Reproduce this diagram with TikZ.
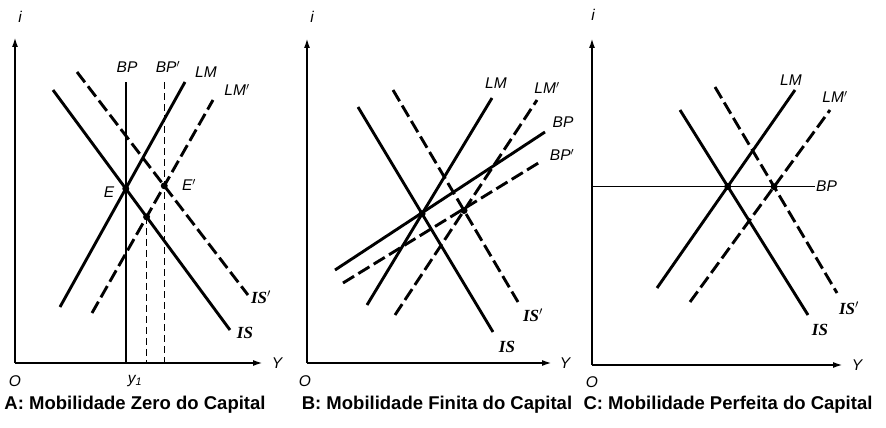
\documentclass[tikz,border=0pt]{standalone}
\usepackage{fontspec}
\setmainfont{Liberation Sans}
\newfontfamily\isfont{Liberation Serif}
\usetikzlibrary{arrows.meta}

\begin{document}
\begin{tikzpicture}[
  x=1pt, y=-1pt,
  axis/.style={line width=1.9pt, -{Latex[length=10pt,width=6pt]}},
  curve/.style={line width=2.9pt},
  shifted/.style={curve, dash pattern=on 13pt off 5pt},
  guide/.style={line width=1.5pt},
  guidedash/.style={guide, dash pattern=on 7pt off 4pt},
  lbl/.style={font=\fontsize{15.5}{15.5}\selectfont\itshape, inner sep=0pt},
  islbl/.style={font=\fontsize{17}{17}\selectfont\isfont\bfseries\itshape, inner sep=0pt},
  caption/.style={font=\fontsize{18.5}{18.5}\selectfont\bfseries, inner sep=0pt, anchor=base},
  eq/.style={circle, fill, inner sep=0pt, minimum size=7pt}
]
  \useasboundingbox (0,0) rectangle (886,428);

  % A: Mobilidade Zero
  \coordinate (oA) at (15,363);
  \coordinate (topA) at (0,82);
  \draw[axis] (oA) -- (15,37);
  \draw[axis] (oA) -- (263,363);
  \coordinate (lmA1) at (60,307);  \coordinate (lmA2) at (185,82);
  \coordinate (lmpA1) at (92,313); \coordinate (lmpA2) at (213,100);
  \coordinate (isA1) at (53,90);   \coordinate (isA2) at (230,330);
  \coordinate (ispA1) at (77,72);  \coordinate (ispA2) at (248,295);
  \coordinate (eA) at (intersection of lmA1--lmA2 and isA1--isA2);
  \coordinate (epA) at (intersection of lmpA1--lmpA2 and ispA1--ispA2);
  \coordinate (fA) at (intersection of lmpA1--lmpA2 and isA1--isA2);
  \draw[guide] (eA |- topA) -- (eA |- oA);
  \draw[guidedash] (epA |- topA) -- (epA |- oA);
  \draw[guidedash] (fA) -- (fA |- oA);
  \draw[curve] (lmA1) -- (lmA2);
  \draw[shifted] (lmpA1) -- (lmpA2);
  \draw[curve] (isA1) -- (isA2);
  \draw[shifted] (ispA1) -- (ispA2);
  \node[eq] at (eA) {};
  \node[eq] at (epA) {};
  \node[eq] at (fA) {};
  \node[lbl] (iA) at (20,17) {i};
  \node[lbl] (yA) at (277,363) {Y};
  \node[lbl] (zeroA) at (15,381) {O};
  \node[lbl] (bpA) at (127,67) {BP};
  \node[lbl] (bppA) at (168,67) {BP$'$};
  \node[lbl] (lmA) at (206,72) {LM};
  \node[lbl] (lmpA) at (237,90) {LM$'$};
  \node[islbl] (isA) at (245,333) {IS};
  \node[islbl] (ispA) at (261,297) {IS$'$};
  \node[lbl] (labelE) at (109,192) {E};
  \node[lbl] (labelEp) at (189,185) {E$'$};
  \node[lbl] (yoneA) at (135,381) {y\textsubscript{1}};
  \node[caption] (capA) at (135,409) {A: Mobilidade Zero do Capital};

  % B: Mobilidade Finita
  \coordinate (oB) at (307,363);
  \draw[axis] (oB) -- (307,38);
  \draw[axis] (oB) -- (552,363);
  \coordinate (lmB1) at (367,305);  \coordinate (lmB2) at (492,98);
  \coordinate (lmpB1) at (395,315); \coordinate (lmpB2) at (537,100);
  \coordinate (bpB1) at (335,270);  \coordinate (bpB2) at (545,132);
  \coordinate (bppB1) at (343,283); \coordinate (bppB2) at (540,162);
  \coordinate (isB1) at (358,107);  \coordinate (isB2) at (493,332);
  \coordinate (ispB1) at (393,90);  \coordinate (ispB2) at (518,302);
  \draw[curve] (lmB1) -- (lmB2);
  \draw[shifted] (lmpB1) -- (lmpB2);
  \draw[curve] (bpB1) -- (bpB2);
  \draw[shifted] (bppB1) -- (bppB2);
  \draw[curve] (isB1) -- (isB2);
  \draw[shifted] (ispB1) -- (ispB2);
  \node[eq] at (intersection of lmB1--lmB2 and isB1--isB2) {};
  \node[eq] at (intersection of lmpB1--lmpB2 and ispB1--ispB2) {};
  \node[lbl] (iB) at (312,17) {i};
  \node[lbl] (yB) at (565,363) {Y};
  \node[lbl] (zeroB) at (305,381) {O};
  \node[lbl] (lmB) at (496,83) {LM};
  \node[lbl] (lmpB) at (547,88) {LM$'$};
  \node[lbl] (bpB) at (563,122) {BP};
  \node[lbl] (bppB) at (562,155) {BP$'$};
  \node[islbl] (isB) at (507,347) {IS};
  \node[islbl] (ispB) at (533,315) {IS$'$};
  \node[caption] (capB) at (437,409) {B: Mobilidade Finita do Capital};

  % C: Mobilidade Perfeita
  \coordinate (oC) at (592,365);
  \draw[axis] (oC) -- (592,38);
  \draw[axis] (oC) -- (843,365);
  \coordinate (lmC1) at (657,288);  \coordinate (lmC2) at (795,90);
  \coordinate (lmpC1) at (690,302); \coordinate (lmpC2) at (830,110);
  \coordinate (isC1) at (680,110);  \coordinate (isC2) at (808,315);
  \coordinate (ispC1) at (715,87);  \coordinate (ispC2) at (837,293);
  \coordinate (eC) at (intersection of lmC1--lmC2 and isC1--isC2);
  \coordinate (epC) at (intersection of lmpC1--lmpC2 and ispC1--ispC2);
  \draw[guide, line width=1.8pt] (oC |- eC) -- (815,0 |- eC);
  \draw[curve] (lmC1) -- (lmC2);
  \draw[shifted] (lmpC1) -- (lmpC2);
  \draw[curve] (isC1) -- (isC2);
  \draw[shifted] (ispC1) -- (ispC2);
  \node[eq] at (eC) {};
  \node[eq] at (epC) {};
  \node[lbl] (iC) at (593,15) {i};
  \node[lbl] (yC) at (857,365) {Y};
  \node[lbl] (zeroC) at (592,382) {O};
  \node[lbl, anchor=west] (bpC) at (816,0 |- eC) {BP};
  \node[lbl] (lmC) at (791,80) {LM};
  \node[lbl] (lmpC) at (835,97) {LM$'$};
  \node[islbl] (isC) at (820,330) {IS};
  \node[islbl] (ispC) at (849,308) {IS$'$};
  \node[caption] (capC) at (728,409) {C: Mobilidade Perfeita do Capital};
\end{tikzpicture}
\end{document}
